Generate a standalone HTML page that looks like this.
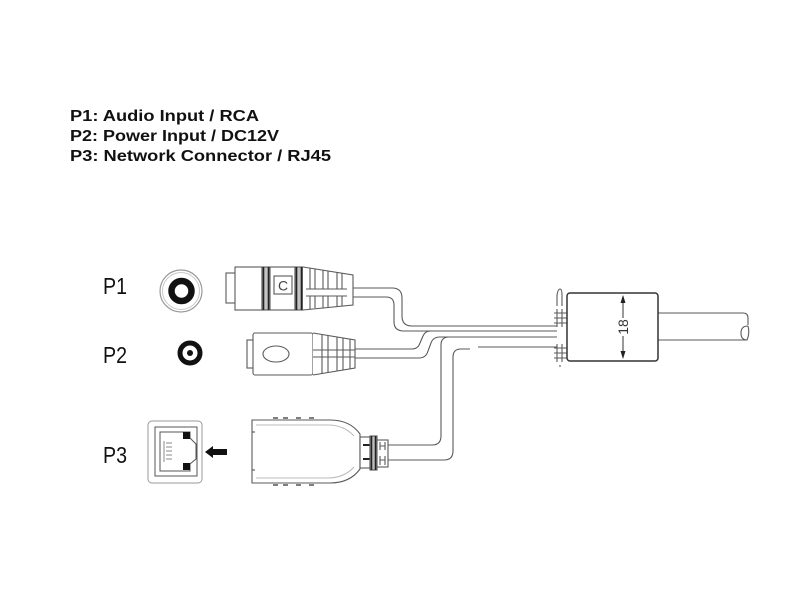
<!DOCTYPE html>
<html><head><meta charset="utf-8"><style>
html,body{margin:0;padding:0;background:#fff;}
svg{display:block;}
</style></head><body>
<svg width="800" height="600" viewBox="0 0 800 600" xmlns="http://www.w3.org/2000/svg">
<rect width="800" height="600" fill="#fff"/>
<g font-family="'Liberation Sans', Arial, sans-serif" font-weight="bold" font-size="16" fill="#111">
<text x="70" y="121" textLength="189" lengthAdjust="spacingAndGlyphs">P1: Audio Input / RCA</text>
<text x="70" y="141" textLength="209" lengthAdjust="spacingAndGlyphs">P2: Power Input / DC12V</text>
<text x="70" y="161" textLength="261" lengthAdjust="spacingAndGlyphs">P3: Network Connector / RJ45</text>
</g>
<g font-family="'Liberation Sans', Arial, sans-serif" font-size="23" fill="#111">
<text x="103" y="294" textLength="24" lengthAdjust="spacingAndGlyphs">P1</text>
<text x="103" y="363" textLength="24" lengthAdjust="spacingAndGlyphs">P2</text>
<text x="103" y="463" textLength="24" lengthAdjust="spacingAndGlyphs">P3</text>
</g>

<!-- P1 icon -->
<circle cx="181" cy="291" r="21" stroke="#999" stroke-width="1.2" fill="none"/>
<circle cx="181" cy="291" r="18.5" stroke="#c8c8c8" stroke-width="1" fill="none"/>
<circle cx="181.5" cy="291" r="10" stroke="#111" stroke-width="6.5" fill="none"/>
<!-- P2 icon -->
<circle cx="190" cy="353" r="10" stroke="#111" stroke-width="5" fill="none"/>
<circle cx="190" cy="353" r="3" fill="#111"/>

<g stroke="#5a5a5a" stroke-width="1.1" fill="none">
<!-- P1 connector -->
<rect x="226" y="273" width="10" height="30" fill="#fff"/>
<rect x="235" y="267" width="27" height="43" fill="#fff"/>
<rect x="262" y="267" width="8" height="43" fill="#c4c4c4"/>
<line x1="263.5" y1="267" x2="263.5" y2="310" stroke="#222" stroke-width="1.6"/>
<line x1="268.5" y1="267" x2="268.5" y2="310" stroke="#222" stroke-width="1.6"/>
<rect x="270" y="267" width="25" height="43" fill="#fff"/>
<rect x="274" y="276" width="18" height="18" fill="#fff"/>
<rect x="295" y="267" width="8" height="43" fill="#c4c4c4"/>
<line x1="296.5" y1="267" x2="296.5" y2="310" stroke="#222" stroke-width="1.6"/>
<line x1="301.5" y1="267" x2="301.5" y2="310" stroke="#222" stroke-width="1.6"/>
<path d="M303,267 L353,275 L353,305 L303,310" fill="#fff"/>
<path d="M310,268 V289 M315,269 V289 M323,270 V289 M328,271 V289 M337,272 V289 M342,273 V289 M310,296 V309 M315,296 V308 M323,296 V308 M328,296 V307 M337,296 V307 M342,296 V306 M306,289 H347 M306,296 H347"/>
<!-- P1 cable -->
<path d="M353,288 H392 Q402,288 402,298 V316 Q402,326 412,326 H557"/>
<path d="M353,297 H386 Q394,297 394,305 V322 Q394,331 404,331 H557"/>

<!-- P2 connector -->
<rect x="247" y="340" width="8" height="28" fill="#fff"/>
<rect x="253" y="333" width="60" height="42" rx="2" fill="#fff"/>
<ellipse cx="276" cy="354" rx="13" ry="8"/>
<path d="M313,333 L355,340 L355,368 L313,375" fill="#fff"/>
<path d="M322,334 V374 M328,335 V373 M337,337 V371 M343,338 V370 M350,339 V369 M313,350 H355 M313,357 H355"/>
<!-- P2 cable -->
<path d="M355,349 H412 Q418,349 420,343 L423,336 Q425,331 431,331"/>
<path d="M355,358 H419 Q426,358 428,351 L431,343 Q433,337 440,337 H557"/>

<!-- P3 cable -->
<path d="M388,445 H432 Q441,445 441,436 V345 Q441,337 449,337"/>
<path d="M388,460 H444 Q453,460 453,451 V357 Q453,349 461,349 H470"/>
<path d="M478,347 H557"/>

<!-- splitter boot -->
<path d="M557,306 V295 Q558,289 560,289 Q562,289 562,295 V306"/>
<path d="M554,313 H567 M554,318 H567 M554,323 H567 M557,309 V327 M562,309 V327"/>
<path d="M554,348 H567 M554,353 H567 M554,358 H567 M557,344 V362 M562,344 V362"/>
<line x1="560" y1="365" x2="560" y2="367"/>
<!-- splitter cable out -->
<path d="M658,313 H743 Q748,313 748,318 V325"/>
<path d="M658,340 H747"/>
<path d="M748,326 Q741,326 741,333 Q741,340 747,340 Q750,333 748,326"/>
</g>
<!-- splitter box -->
<rect x="567" y="293" width="91" height="68" rx="3" fill="#fff" stroke="#333" stroke-width="1.5"/>
<line x1="623" y1="296" x2="623" y2="358" stroke="#333" stroke-width="1"/>
<path d="M623,295 L620.5,303 L625.5,303 Z M623,359 L620.5,351 L625.5,351 Z" fill="#222"/>
<rect x="616" y="318" width="14" height="18" fill="#fff"/>
<text x="0" y="0" transform="translate(628,327) rotate(-90)" text-anchor="middle" font-family="'Liberation Sans', Arial, sans-serif" font-size="14" fill="#333">18</text>
<text x="283" y="290.5" text-anchor="middle" font-family="'Liberation Sans', Arial, sans-serif" font-size="14" fill="#444">C</text>

<!-- RJ45 jack -->
<g stroke="#666" stroke-width="1" fill="none">
<rect x="148" y="421" width="54" height="62" rx="4" stroke="#999"/>
<rect x="155" y="427" width="42" height="49" stroke="#555"/>
<path d="M160,432 H190 V438 L196,444 V459 L190,464 V471 H160 Z" stroke="#555"/>
<path d="M166,443 H172 M166,447 H172 M166,451 H172 M166,455 H172 M166,459 H172 M164,441 V462" stroke="#888"/>
</g>
<rect x="183" y="432" width="7" height="7" fill="#111"/>
<rect x="183" y="463" width="7" height="7" fill="#111"/>
<path d="M205,452 L213,446 L213,449 L227,449 L227,455 L213,455 L213,458 Z" fill="#111"/>

<!-- RJ45 plug -->
<g stroke="#5a5a5a" stroke-width="1.1" fill="none">
<path d="M252,420 H330 Q350,420 360,434 V469 Q350,483 330,483 H252 Z" fill="#fff"/>
<path d="M256,425 H328 Q344,425 354,436 M256,478 H328 Q344,478 354,467" stroke="#bbb"/>
<path d="M252,432 H255 M252,470 H255" stroke="#444"/>
<path d="M273,418 H278 M283,418 H288 M296,418 H301 M309,418 H314 M273,485 H278 M283,485 H288 M296,485 H301 M309,485 H314" stroke="#555" stroke-width="1.5"/>
<rect x="360" y="437" width="10" height="31" fill="#fff"/>
<path d="M363,445 H370 M363,459 H370" stroke="#222" stroke-width="2"/>
<rect x="370" y="436" width="7" height="34" fill="#bbb"/>
<path d="M371.5,436 V470 M375.5,436 V470" stroke="#222" stroke-width="1.5"/>
<rect x="377" y="440" width="11" height="27" fill="#fff"/>
<path d="M380,442 V450 M385,442 V450 M380,446 H385 M380,456 V465 M385,456 V465 M380,460 H385"/>
</g>
</svg>
</body></html>
